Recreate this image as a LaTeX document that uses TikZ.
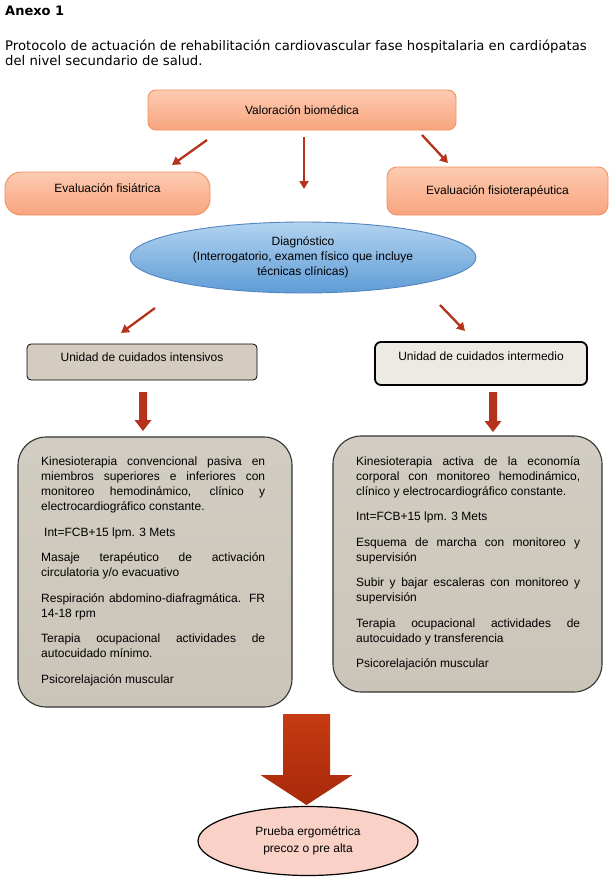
\documentclass[tikz,border=0pt]{standalone}
\usepackage{fontspec}
\setmainfont{Liberation Sans}
\newfontfamily\headfont{DejaVu Sans}
\usetikzlibrary{arrows.meta,calc,shapes.geometric}
\definecolor{salmontop}{HTML}{FDCBB2}
\definecolor{salmonbot}{HTML}{F8A47E}
\definecolor{salmonline}{HTML}{F2915F}
\definecolor{bluetop}{HTML}{B3D3F0}
\definecolor{bluebot}{HTML}{5E9CD6}
\definecolor{blueline}{HTML}{5585BE}
\definecolor{ucifill}{HTML}{D3CCBF}
\definecolor{interfill}{HTML}{ECEAE2}
\definecolor{bigfill}{HTML}{CBC5B9}
\definecolor{bigfilltop}{HTML}{D2CDC2}
\definecolor{arrred}{HTML}{B5331A}
\definecolor{bigarrtop}{HTML}{C63B12}
\definecolor{bigarrbot}{HTML}{A8290A}
\definecolor{pinkfill}{HTML}{F9D1C6}
\newcommand{\myblockarrow}[6]{%
  \path[#1] ($(#2)+(-#4,0)$) -- ($(#3)+(-#4,-#6)$) -- ($(#3)+(-#5,-#6)$) -- (#3)
    -- ($(#3)+(#5,-#6)$) -- ($(#3)+(#4,-#6)$) -- ($(#2)+(#4,0)$) -- cycle;}
\newcommand{\mybodysetup}{\fontsize{12}{15}\selectfont\tolerance=10000 \hyphenpenalty=10000 \exhyphenpenalty=10000 \parskip=10.5pt\relax}
\tikzset{
  lbl/.style={font=\fontsize{12}{15}\selectfont, align=center},
  salmonbox/.style={lbl, draw=salmonline, line width=0.9pt, top color=salmontop, bottom color=salmonbot, inner sep=0pt},
  unitbox/.style={lbl, draw=black, rounded corners=4pt, inner sep=0pt},
  bigbox/.style={draw=black!80, line width=1.1pt, top color=bigfilltop, bottom color=bigfill, rounded corners=28pt, inner sep=0pt},
  bodytext/.style={anchor=north west, text width=224pt, align=justify, inner sep=0pt,
    execute at begin node=\mybodysetup},
  thinarr/.style={draw=arrred, line width=2.3pt, -{Triangle[length=8pt,width=9pt]}},
  blockarr/.style={fill=arrred},
}
\begin{document}
\begin{tikzpicture}[x=1pt,y=-1pt]
\useasboundingbox (0,0) rectangle (615,883);
\fill[white] (0,0) rectangle (615,883);

% heading
\node[anchor=base west, inner sep=0pt, font=\headfont\bfseries\fontsize{13}{15}\selectfont] (anexo) at (5,16) {Anexo 1};
\node[anchor=base west, inner sep=0pt, font=\headfont\fontsize{13.2}{15}\selectfont] (tit1) at (5,51) {Protocolo de actuación de rehabilitación cardiovascular fase hospitalaria en cardiópatas};
\node[anchor=base west, inner sep=0pt, font=\headfont\fontsize{13.2}{15}\selectfont] (tit2) at (5,66) {del nivel secundario de salud.};

% top boxes
\node[salmonbox, rounded corners=8pt, minimum width=308pt, minimum height=40pt] (val) at (302,110) {Valoración biomédica};
\node[salmonbox, rounded corners=16pt, minimum width=205pt, minimum height=43pt, text depth=10pt] (fis) at (107.5,193.5) {Evaluación fisiátrica};
\node[salmonbox, rounded corners=10pt, minimum width=221pt, minimum height=48pt] (fisio) at (497.5,191) {Evaluación fisioterapéutica};

% diagnosis ellipse
\node[ellipse, lbl, draw=blueline, line width=0.9pt, top color=bluetop, bottom color=bluebot, minimum width=346pt, minimum height=71pt, inner sep=0pt] (diag) at (303,257.5) {Diagnóstico\\(Interrogatorio, examen físico que incluye\\técnicas clínicas)};

% thin arrows from valoracion
\coordinate (a1s) at (207,140); \coordinate (a1e) at (172,165);
\coordinate (a2s) at (304,137); \coordinate (a2e) at (304,189);
\coordinate (a3s) at (422,135); \coordinate (a3e) at (448,163);
\draw[thinarr] (a1s) -- (a1e);
\draw[thinarr] (a2s) -- (a2e);
\draw[thinarr] (a3s) -- (a3e);

% unit boxes
\node[unitbox, fill=ucifill, line width=0.8pt, minimum width=230pt, minimum height=36pt, text depth=10pt] (uci) at (142,362) {Unidad de cuidados intensivos};
\node[unitbox, fill=interfill, line width=1.8pt, rounded corners=6pt, minimum width=212pt, minimum height=43pt, text depth=14pt] (inter) at (481,363.5) {Unidad de cuidados intermedio};

% arrows from diagnosis
\coordinate (b1s) at (155,308); \coordinate (b1e) at (121,333);
\coordinate (b2s) at (440,305); \coordinate (b2e) at (465,331);
\draw[thinarr] (b1s) -- (b1e);
\draw[thinarr] (b2s) -- (b2e);

% big content boxes
\node[bigbox, minimum width=274pt, minimum height=270pt] (boxl) at (155,572) {};
\node[bigbox, minimum width=269pt, minimum height=256pt] (boxr) at (467.5,564) {};

\node[bodytext] (txtl) at (41,457) {Kinesioterapia convencional pasiva en\linebreak miembros superiores e inferiores con\linebreak monitoreo hemodinámico, clínico y\linebreak electrocardiográfico constante.\par
\hspace*{3pt}Int=FCB+15 lpm. 3 Mets\par
Masaje terapéutico de activación\linebreak circulatoria y/o evacuativo\par
Respiración abdomino-diafragmática. FR\linebreak 14-18 rpm\par
Terapia ocupacional actividades de\linebreak autocuidado mínimo.\par
Psicorelajación muscular};

\node[bodytext] (txtr) at (356,456) {Kinesioterapia activa de la economía\linebreak corporal con monitoreo hemodinámico,\linebreak clínico y electrocardiográfico constante.\par
Int=FCB+15 lpm. 3 Mets\par
Esquema de marcha con monitoreo y\linebreak supervisión\par
Subir y bajar escaleras con monitoreo y\linebreak supervisión\par
Terapia ocupacional actividades de\linebreak autocuidado y transferencia\par
Psicorelajación muscular};

% block arrows unit -> box
\coordinate (c1s) at (143,392); \coordinate (c1e) at (143,431);
\coordinate (c2s) at (493,392); \coordinate (c2e) at (493,432);
\myblockarrow{blockarr}{c1s}{c1e}{4}{8.5}{11}
\myblockarrow{blockarr}{c2s}{c2e}{4}{8.5}{11}

% final ellipse
\node[ellipse, lbl, draw=black, line width=1.2pt, fill=pinkfill, minimum width=220pt, minimum height=69pt, inner sep=0pt, font=\fontsize{12}{16.5}\selectfont] (final) at (308,841) {Prueba ergométrica\\precoz o pre alta};

% big arrow
\coordinate (dS) at (306.5,714); \coordinate (dE) at (306.5,805);
\myblockarrow{top color=bigarrtop, bottom color=bigarrbot}{dS}{dE}{23.5}{46}{30}
\end{tikzpicture}
\end{document}
